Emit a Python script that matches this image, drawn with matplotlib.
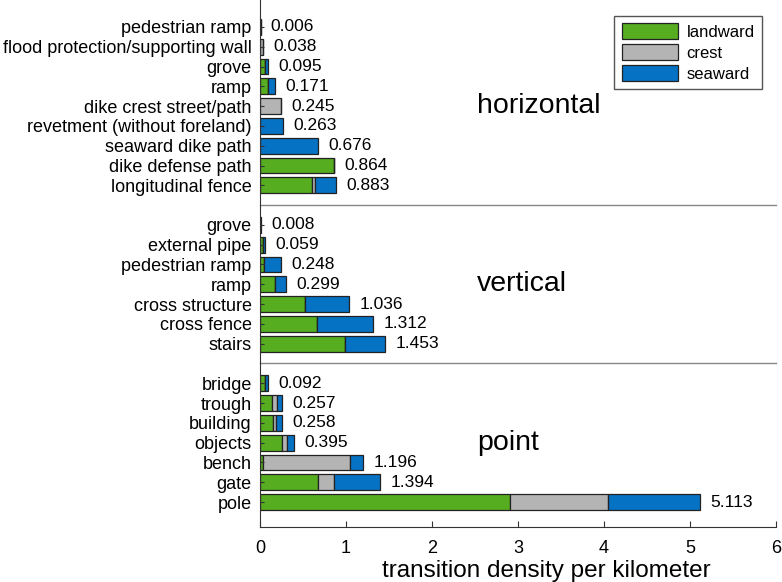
import numpy as np
import matplotlib.pyplot as plt

plt.rcParams['font.family'] = ['Liberation Sans', 'DejaVu Sans']

# colours of the three sections
col_land = '#56AD1F'
col_crest = '#B4B4B4'
col_sea = '#0672C4'

# groups, listed from top to bottom
grupos = ['horizontal', 'vertical', 'point']

h_labels = ['pedestrian ramp', 'flood protection/supporting wall', 'grove', 'ramp',
            'dike crest street/path', 'revetment (without foreland)', 'seaward dike path',
            'dike defense path', 'longitudinal fence']
h_land = [0.0, 0.0, 0.058, 0.090, 0.0, 0.0, 0.0, 0.864, 0.607]
h_crest = [0.006, 0.030, 0.0, 0.0, 0.245, 0.0, 0.0, 0.0, 0.033]
h_sea = [0.0, 0.008, 0.037, 0.081, 0.0, 0.263, 0.676, 0.0, 0.243]
h_total = [0.006, 0.038, 0.095, 0.171, 0.245, 0.263, 0.676, 0.864, 0.883]

v_labels = ['grove', 'external pipe', 'pedestrian ramp', 'ramp', 'cross structure',
            'cross fence', 'stairs']
v_land = [0.004, 0.030, 0.046, 0.180, 0.522, 0.657, 0.990]
v_crest = [0.0, 0.0, 0.0, 0.0, 0.0, 0.0, 0.0]
v_sea = [0.004, 0.029, 0.202, 0.119, 0.514, 0.655, 0.463]
v_total = [0.008, 0.059, 0.248, 0.299, 1.036, 1.312, 1.453]

p_labels = ['bridge', 'trough', 'building', 'objects', 'bench', 'gate', 'pole']
p_land = [0.058, 0.143, 0.147, 0.260, 0.035, 0.677, 2.910]
p_crest = [0.0, 0.057, 0.043, 0.057, 1.015, 0.178, 1.140]
p_sea = [0.034, 0.057, 0.068, 0.078, 0.146, 0.539, 1.063]
p_total = [0.092, 0.257, 0.258, 0.395, 1.196, 1.394, 5.113]

dados = [
    (h_labels, h_land, h_crest, h_sea, h_total),
    (v_labels, v_land, v_crest, v_sea, v_total),
    (p_labels, p_land, p_crest, p_sea, p_total),
]

fig = plt.figure(figsize=(7.82, 5.82), dpi=100)
ax = fig.add_axes([0.3325, 0.0945, 0.66, 0.9055])

# y positions: bottom group first, one empty slot between groups
pos_y = []
ylabels = []
separadores = []
y = 1
for i, (labs, land, crest, sea, tot) in enumerate(reversed(dados)):
    n = len(labs)
    ys = np.arange(y, y + n)[::-1]
    land = np.array(land)
    crest = np.array(crest)
    sea = np.array(sea)
    kw = dict(height=0.8, edgecolor='#222222', linewidth=0.9)
    ax.barh(ys, land, color=col_land, label='landward' if i == 0 else None, **kw)
    ax.barh(ys, crest, left=land, color=col_crest, label='crest' if i == 0 else None, **kw)
    ax.barh(ys, sea, left=land + crest, color=col_sea, label='seaward' if i == 0 else None, **kw)
    for yy, t in zip(ys, tot):
        ax.text(t + 0.12, yy, f'{t:.3f}', ha='left', va='center', fontsize=12.5)
    nome = list(reversed(grupos))[i]
    ax.text(2.52, ys[n // 2], nome, ha='left', va='center', fontsize=20.5)
    pos_y.extend(ys)
    ylabels.extend(labs)
    y += n
    if i < len(dados) - 1:
        separadores.append(y)
        y += 1

for s in separadores:
    ax.axhline(s, color='#888888', linewidth=1.0, clip_on=False)

ax.set_yticks(pos_y)
ax.set_yticklabels(ylabels, fontsize=13)
ax.set_xlim(0, 6)
ax.set_ylim(-0.26, 26.36)
ax.set_xticks(range(0, 7))
ax.tick_params(axis='x', direction='in', length=4, labelsize=13, pad=9, color='#333333')
ax.tick_params(axis='y', direction='in', length=3, pad=6, color='#333333')
ax.set_xlabel('transition density per kilometer', fontsize=17.5, labelpad=2)
ax.xaxis.set_label_coords(0.554, -0.063)

for lado in ['top', 'right']:
    ax.spines[lado].set_visible(False)
for lado in ['left', 'bottom']:
    ax.spines[lado].set_color('#333333')

leg = ax.legend(loc='upper right', bbox_to_anchor=(0.973, 0.970), borderaxespad=0,
                fontsize=12, fancybox=False, framealpha=1, edgecolor='#555555',
                handlelength=3.4, handleheight=1.1, borderpad=0.45, labelspacing=0.25,
                handletextpad=0.5)

plt.savefig('out.png', dpi=100)
